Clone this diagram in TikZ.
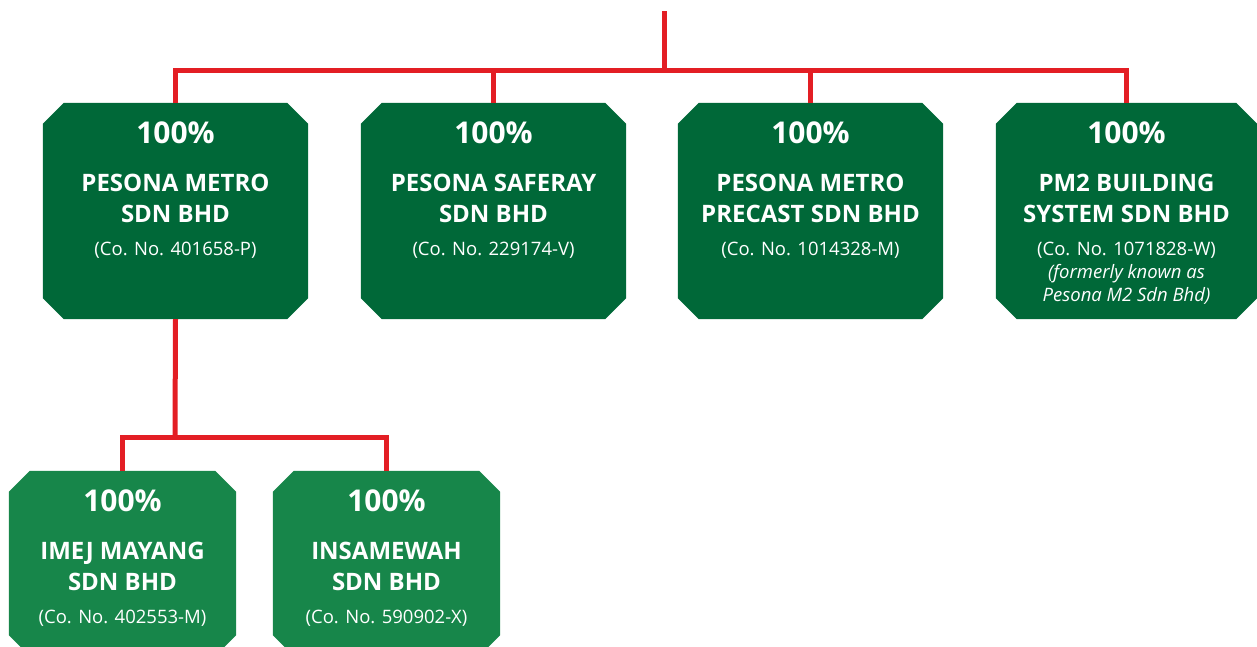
\documentclass[tikz,border=0pt]{standalone}
\usepackage{fontspec}
\setmainfont{Open Sans}
\usetikzlibrary{shapes.misc}

\definecolor{pmgreen}{RGB}{0,104,56}
\definecolor{pmlight}{RGB}{23,134,74}
\definecolor{pmred}{RGB}{227,30,36}

\begin{document}
\begin{tikzpicture}[x=1pt, y=-1pt,
	link/.style={draw=pmred, line width=5pt},
	firm/.style={rectangle, inner sep=0pt, draw=none, minimum width=265pt, minimum height=216pt},
	subfirm/.style={firm, minimum width=227pt, minimum height=185pt},
	pct/.style={anchor=base, text=white, inner sep=0pt, font=\fontsize{30}{30}\selectfont\bfseries},
	firmname/.style={anchor=base, text=white, inner sep=0pt, font=\fontsize{24}{24}\selectfont\bfseries},
	regno/.style={anchor=base, text=white, inner sep=0pt, font=\fontsize{18.5}{18.5}\selectfont}]

	\useasboundingbox (0,0) rectangle (1257,646);

	\coordinate (top) at (664,11);
	\coordinate (bus) at (664,70);
	\coordinate (sub) at (175,437);

	% boxes
	\node[firm] (b1) at (175.5,211) {};
	\node[firm] (b2) at (493.5,211) {};
	\node[firm] (b3) at (810.5,211) {};
	\node[firm, minimum width=261pt] (b4) at (1126.5,211) {};
	\node[subfirm] (b5) at (122.5,563.5) {};
	\node[subfirm] (b6) at (386.5,563.5) {};

	% chamfered fill
	\foreach \b/\c in {b1/pmgreen, b2/pmgreen, b3/pmgreen, b4/pmgreen, b5/pmlight, b6/pmlight}
		\fill[\c] ([xshift=21pt]\b.north west) -- ([xshift=-21pt]\b.north east)
			-- ([yshift=-21pt]\b.north east) -- ([yshift=21pt]\b.south east)
			-- ([xshift=-21pt]\b.south east) -- ([xshift=21pt]\b.south west)
			-- ([yshift=21pt]\b.south west) -- ([yshift=-21pt]\b.north west) -- cycle;

	% red lines
	\draw[link] (top) -- (bus);
	\draw[link] (b1.north) |- (bus) -| (b4.north);
	\draw[link] (b2.north) -- (b2.north |- bus);
	\draw[link] (b3.north) -- (b3.north |- bus);
	\draw[link] (b1.south) -- (sub);
	\draw[link] (b5.north) |- (sub) -| (b6.north);

	% texts
	\foreach \b/\la/\lb/\co in {b1/PESONA METRO/SDN BHD/401658-P,
			b2/PESONA SAFERAY/SDN BHD/229174-V,
			b3/PESONA METRO/PRECAST SDN BHD/1014328-M,
			b4/PM2 BUILDING/SYSTEM SDN BHD/1071828-W,
			b5/IMEJ MAYANG/SDN BHD/402553-M,
			b6/INSAMEWAH/SDN BHD/590902-X} {
		\node[pct, yshift=-41pt] (\b-pct) at (\b.north) {100\%};
		\node[firmname, yshift=-89pt] (\b-la) at (\b.north) {\la};
		\node[firmname, yshift=-120pt] (\b-lb) at (\b.north) {\lb};
		\node[regno, yshift=-153pt] (\b-co) at (\b.north) {(Co. No. \co)};
	}
	\node[regno, yshift=-176pt] (b4-fa) at (b4.north) {\itshape (formerly known as};
	\node[regno, yshift=-199pt] (b4-fb) at (b4.north) {\itshape Pesona M2 Sdn Bhd)};

\end{tikzpicture}
\end{document}
